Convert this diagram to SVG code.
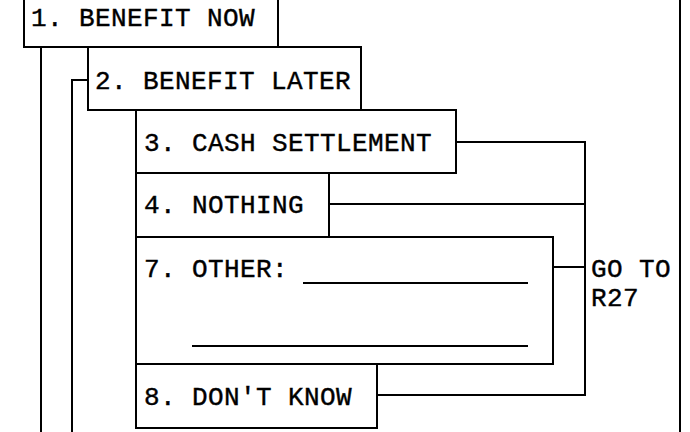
<svg xmlns="http://www.w3.org/2000/svg" width="690" height="432" viewBox="0 0 690 432">
<style>
.box{fill:#fff;stroke:#000;stroke-width:2}
.ln{fill:none;stroke:#000;stroke-width:2}
text{font-family:"Liberation Mono","DejaVu Sans Mono",monospace;font-size:26px;letter-spacing:0.4px;fill:#000;stroke:#000;stroke-width:0.4}
</style>
<rect width="690" height="432" fill="#fff"/>
<g id="connectors">
<line class="ln" x1="680" y1="0" x2="680" y2="432"/>
<line class="ln" x1="41" y1="47" x2="41" y2="432"/>
<polyline class="ln" points="88,80 72,80 72,432"/>
<polyline class="ln" points="456,142 585,142 585,395 377,395"/>
<line class="ln" x1="329" y1="204" x2="585" y2="204"/>
<line class="ln" x1="553" y1="267" x2="585" y2="267"/>
</g>
<g id="n1"><rect class="box" x="24" y="-5" width="254" height="52"/><text x="31" y="26">1. BENEFIT NOW</text></g>
<g id="n2"><rect class="box" x="88" y="47" width="273" height="63"/><text x="95" y="89">2. BENEFIT LATER</text></g>
<g id="n3"><rect class="box" x="136" y="110" width="320" height="63"/><text x="144" y="151">3. CASH SETTLEMENT</text></g>
<g id="n4"><rect class="box" x="136" y="173" width="193" height="64"/><text x="144" y="213">4. NOTHING</text></g>
<g id="n7"><rect class="box" x="136" y="237" width="417" height="127"/><text x="144" y="277">7. OTHER:</text>
<line class="ln" x1="303" y1="283" x2="528" y2="283"/>
<line class="ln" x1="192" y1="346" x2="528" y2="346"/></g>
<g id="n8"><rect class="box" x="136" y="364" width="241" height="64"/><text x="144" y="405">8. DON'T KNOW</text></g>
<g id="goto"><text x="591" y="277">GO TO</text><text x="591" y="306">R27</text></g>
</svg>
